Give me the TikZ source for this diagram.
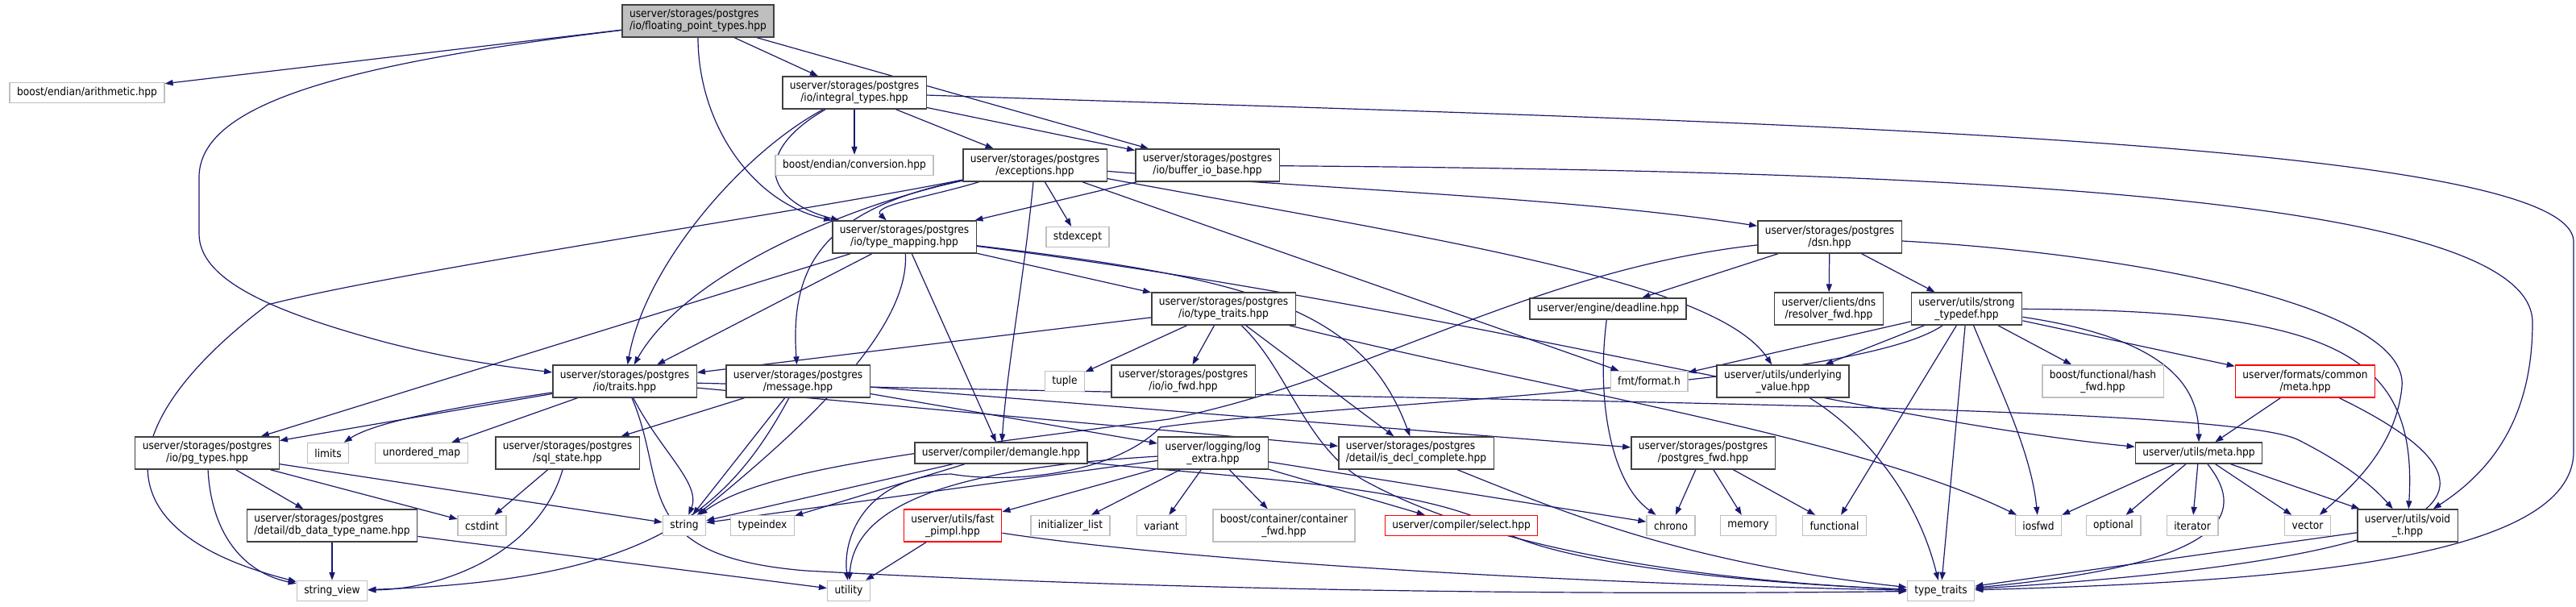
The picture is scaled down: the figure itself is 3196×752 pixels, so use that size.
\documentclass[tikz,border=0pt]{standalone}
\usepackage{fontspec}
\setmainfont{DejaVu Sans Condensed}
\usetikzlibrary{arrows.meta,backgrounds}
\definecolor{edgeblue}{HTML}{191970}
\definecolor{boxgray}{HTML}{BFBFBF}
\definecolor{boxline}{HTML}{404040}
\begin{document}
\begin{tikzpicture}[x=0.5pt, y=-0.5pt, >={Triangle[length=5pt,width=3.6pt]},
  every node/.style={font=\fontsize{6.8}{7.5}\selectfont, align=center, inner xsep=4.5pt, inner ysep=1.5pt},
  hdr/.style={draw=boxline, line width=0.7pt, fill=white, minimum height=20pt},
  hdrone/.style={draw=boxline, line width=0.7pt, fill=white, minimum height=13pt},
  sys/.style={draw=boxgray, line width=0.7pt, fill=white, minimum height=12.5pt},
  missing/.style={draw=red, line width=0.7pt, fill=white, minimum height=20pt},
  dep/.style={->, draw=edgeblue, line width=0.6pt}]
\useasboundingbox (0,0) rectangle (3196,752);
% row 0-1
\node[hdr, fill=boxgray, align=left] (root) at (866,26) {userver/storages/postgres\\/io/floating\_point\_types.hpp};
\node[sys] (arith) at (108,115) {boost/endian/arithmetic.hpp};
\node[hdr] (integral) at (1060,115) {userver/storages/postgres\\/io/integral\_types.hpp};
% row 2
\node[sys] (conv) at (1060,205) {boost/endian/conversion.hpp};
\node[hdr] (exc) at (1284,205) {userver/storages/postgres\\/exceptions.hpp};
\node[hdr] (bufio) at (1498,205) {userver/storages/postgres\\/io/buffer\_io\_base.hpp};
% row 3
\node[hdr] (tmap) at (1122,294) {userver/storages/postgres\\/io/type\_mapping.hpp};
\node[sys] (stdexcept) at (1337,294) {stdexcept};
\node[hdr] (dsn) at (2270,294) {userver/storages/postgres\\/dsn.hpp};
% row 4
\node[hdr] (iott) at (1518,383) {userver/storages/postgres\\/io/type\_traits.hpp};
\node[hdrone] (deadline) at (1995,383) {userver/engine/deadline.hpp};
\node[hdr] (resolver) at (2269,383) {userver/clients/dns\\/resolver\_fwd.hpp};
\node[hdr] (strong) at (2440,383) {userver/utils/strong\\\_typedef.hpp};
% row 5
\node[hdr] (traits) at (775,473) {userver/storages/postgres\\/io/traits.hpp};
\node[hdr] (message) at (990,473) {userver/storages/postgres\\/message.hpp};
\node[sys] (tuple) at (1321,473) {tuple};
\node[hdr] (iofwd) at (1468,473) {userver/storages/postgres\\/io/io\_fwd.hpp};
\node[sys] (fmt) at (2046,473) {fmt/format.h};
\node[hdr] (underl) at (2212,473) {userver/utils/underlying\\\_value.hpp};
\node[sys, minimum height=20pt] (hashfwd) at (2609,473) {boost/functional/hash\\\_fwd.hpp};
\node[missing] (fmeta) at (2860,473) {userver/formats/common\\/meta.hpp};
% row 6
\node[hdr] (pgtypes) at (257,562) {userver/storages/postgres\\/io/pg\_types.hpp};
\node[sys] (limits) at (407,562) {limits};
\node[sys] (umap) at (523,562) {unordered\_map};
\node[hdr] (sqlstate) at (704,562) {userver/storages/postgres\\/sql\_state.hpp};
\node[hdrone] (demangle) at (1242,562) {userver/compiler/demangle.hpp};
\node[hdr] (logextra) at (1505,562) {userver/logging/log\\\_extra.hpp};
\node[hdr, align=left] (isdecl) at (1757,562) {userver/storages/postgres\\/detail/is\_decl\_complete.hpp};
\node[hdr] (pgfwd) at (2113,562) {userver/storages/postgres\\/postgres\_fwd.hpp};
\node[hdrone] (umeta) at (2728,562) {userver/utils/meta.hpp};
% row 7
\node[hdr, align=left] (dbdata) at (412,652) {userver/storages/postgres\\/detail/db\_data\_type\_name.hpp};
\node[sys] (cstdint) at (598,652) {cstdint};
\node[sys] (string) at (849,652) {string};
\node[sys] (typeindex) at (946,652) {typeindex};
\node[missing] (fastpimpl) at (1182,652) {userver/utils/fast\\\_pimpl.hpp};
\node[sys] (initlist) at (1328,652) {initializer\_list};
\node[sys] (variant) at (1441,652) {variant};
\node[sys, minimum height=20pt] (contfwd) at (1593,652) {boost/container/container\\\_fwd.hpp};
\node[missing, minimum height=12.5pt] (select) at (1813,652) {userver/compiler/select.hpp};
\node[sys] (chrono) at (2073,652) {chrono};
\node[sys] (memory) at (2169,652) {memory};
\node[sys] (functional) at (2276,652) {functional};
\node[sys] (iosfwd) at (2529,652) {iosfwd};
\node[sys] (optional) at (2622,652) {optional};
\node[sys] (iterator) at (2720,652) {iterator};
\node[sys] (vector) at (2863,652) {vector};
\node[hdr] (voidt) at (2987,652) {userver/utils/void\\\_t.hpp};
% row 8
\node[sys] (strview) at (412,733) {string\_view};
\node[sys] (utility) at (1053,733) {utility};
\node[sys] (stdtt) at (2408,733) {type\_traits};

\begin{pgfonlayer}{background}
% floating_point_types.hpp
\draw[dep] (root) -- (arith);
\draw[dep] (root) -- (integral);
\draw[dep] (root) -- (bufio);
\draw[dep] (root) .. controls (866,150) and (930,250) .. (tmap);
\draw[dep] (root) .. controls (420,80) and (247,130) .. (247,220) -- (247,290) .. controls (247,345) and (330,385) .. (480,425) .. controls (570,448) and (630,455) .. (traits);
% integral_types.hpp
\draw[dep] (integral) -- (conv);
\draw[dep] (integral) -- (exc);
\draw[dep] (integral) -- (bufio);
\draw[dep] (integral) .. controls (930,190) and (950,250) .. (tmap);
\draw[dep] (integral) .. controls (920,190) and (800,330) .. (traits);
\draw[dep] (integral) .. controls (2100,150) and (3193,170) .. (3193,300) -- (3193,560) .. controls (3193,700) and (2800,722) .. (stdtt);
% exceptions.hpp
\draw[dep] (exc) -- (stdexcept);
\draw[dep] (exc) .. controls (1000,262) and (500,335) .. (332,378) .. controls (170,500) and (90,650) .. (strview);
\draw[dep] (exc) -- (fmt);
\draw[dep] (exc) .. controls (1650,235) and (1950,245) .. (dsn);
\draw[dep] (exc) .. controls (1050,255) and (850,340) .. (traits);
\draw[dep] (exc) .. controls (1150,245) and (1080,255) .. (tmap);
\draw[dep] (exc) .. controls (1020,260) and (980,330) .. (message);
\draw[dep] (exc) .. controls (1800,300) and (2130,350) .. (underl);
\draw[dep] (exc) .. controls (1270,350) and (1250,450) .. (demangle);
% buffer_io_base.hpp
\draw[dep] (bufio) -- (tmap);
\draw[dep] (bufio) .. controls (2400,212) and (3142,240) .. (3142,400) .. controls (3142,520) and (3090,585) .. (voidt);
% type_mapping.hpp
\draw[dep] (tmap) -- (pgtypes);
\draw[dep] (tmap) -- (traits);
\draw[dep] (tmap) .. controls (1130,420) and (960,560) .. (string);
\draw[dep] (tmap) -- (demangle);
\draw[dep] (tmap) -- (iott);
\draw[dep] (tmap) .. controls (1550,345) and (1690,380) .. (isdecl);
\draw[dep] (tmap) .. controls (1800,380) and (2300,520) .. (umeta);
% io/type_traits.hpp
\draw[dep] (iott) -- (traits);
\draw[dep] (iott) -- (tuple);
\draw[dep] (iott) -- (iofwd);
\draw[dep] (iott) -- (isdecl);
\draw[dep] (iott) .. controls (1600,460) and (1620,560) .. (1700,600) .. controls (1850,680) and (2100,720) .. (stdtt);
\draw[dep] (iott) .. controls (1900,480) and (2300,540) .. (iosfwd);
% dsn.hpp
\draw[dep] (dsn) -- (deadline);
\draw[dep] (dsn) -- (resolver);
\draw[dep] (dsn) -- (strong);
\draw[dep] (dsn) .. controls (2650,315) and (2990,380) .. (2980,480) .. controls (2972,560) and (2910,610) .. (vector);
\draw[dep] (dsn) .. controls (1900,335) and (1700,470) .. (1450,520) .. controls (1150,560) and (950,580) .. (string);
% utils/strong_typedef.hpp
\draw[dep] (strong) -- (fmt);
\draw[dep] (strong) -- (underl);
\draw[dep] (strong) -- (hashfwd);
\draw[dep] (strong) -- (fmeta);
\draw[dep] (strong) .. controls (2690,420) and (2728,480) .. (umeta);
\draw[dep] (strong) .. controls (2900,385) and (3000,440) .. (voidt);
\draw[dep] (strong) -- (functional);
\draw[dep] (strong) -- (stdtt);
\draw[dep] (strong) .. controls (2480,480) and (2520,560) .. (iosfwd);
\draw[dep] (strong) .. controls (2300,480) and (1650,500) .. (1440,530) .. controls (1380,590) and (1250,600) .. (1180,588) .. controls (1080,590) and (1045,660) .. (utility);
% io/traits.hpp
\draw[dep] (traits) -- (pgtypes);
\draw[dep] (traits) .. controls (600,500) and (470,520) .. (limits);
\draw[dep] (traits) -- (umap);
\draw[dep] (traits) .. controls (820,560) and (870,600) .. (string);
\draw[dep] (traits) .. controls (830,600) and (780,690) .. (1000,708) .. controls (1500,735) and (2000,738) .. (stdtt);
\draw[dep] (traits) -- (isdecl);
\draw[dep] (traits) .. controls (1800,498) and (2750,500) .. (2850,545) .. controls (2920,580) and (2950,610) .. (voidt);
% message.hpp
\draw[dep] (message) -- (sqlstate);
\draw[dep] (message) -- (string);
\draw[dep] (message) .. controls (900,640) and (800,720) .. (strview);
\draw[dep] (message) -- (logextra);
\draw[dep] (message) -- (pgfwd);
% pg_types.hpp and friends
\draw[dep] (pgtypes) -- (dbdata);
\draw[dep] (pgtypes) -- (cstdint);
\draw[dep] (pgtypes) -- (string);
\draw[dep] (pgtypes) .. controls (262,660) and (300,710) .. (strview);
\draw[dep] (dbdata) -- (strview);
\draw[dep] (dbdata) -- (utility);
\draw[dep] (sqlstate) -- (cstdint);
\draw[dep] (sqlstate) .. controls (670,680) and (560,730) .. (strview);
% compiler/demangle.hpp
\draw[dep] (demangle) -- (string);
\draw[dep] (demangle) -- (typeindex);
\draw[dep] (demangle) .. controls (1500,590) and (1750,600) .. (1850,650) .. controls (1900,690) and (2100,720) .. (stdtt);
% logging/log_extra.hpp
\draw[dep] (logextra) -- (string);
\draw[dep] (logextra) .. controls (1200,580) and (1060,620) .. (utility);
\draw[dep] (logextra) -- (fastpimpl);
\draw[dep] (logextra) -- (initlist);
\draw[dep] (logextra) -- (variant);
\draw[dep] (logextra) -- (contfwd);
\draw[dep] (logextra) -- (select);
\draw[dep] (logextra) -- (chrono);
% the rest
\draw[dep] (fastpimpl) -- (utility);
\draw[dep] (fastpimpl) .. controls (1500,700) and (2000,725) .. (stdtt);
\draw[dep] (isdecl) .. controls (1950,640) and (2100,700) .. (stdtt);
\draw[dep] (pgfwd) -- (chrono);
\draw[dep] (pgfwd) -- (memory);
\draw[dep] (pgfwd) -- (functional);
\draw[dep] (deadline) .. controls (1980,500) and (2000,600) .. (chrono);
\draw[dep] (underl) .. controls (2320,540) and (2380,620) .. (stdtt);
\draw[dep] (fmeta) -- (umeta);
\draw[dep] (fmeta) .. controls (3120,600) and (3100,690) .. (stdtt);
\draw[dep] (umeta) -- (iosfwd);
\draw[dep] (umeta) -- (optional);
\draw[dep] (umeta) -- (iterator);
\draw[dep] (umeta) -- (vector);
\draw[dep] (umeta) -- (voidt);
\draw[dep] (umeta) .. controls (2790,640) and (2760,700) .. (stdtt);
\draw[dep] (voidt) -- (stdtt);
\end{pgfonlayer}
\end{tikzpicture}
\end{document}
